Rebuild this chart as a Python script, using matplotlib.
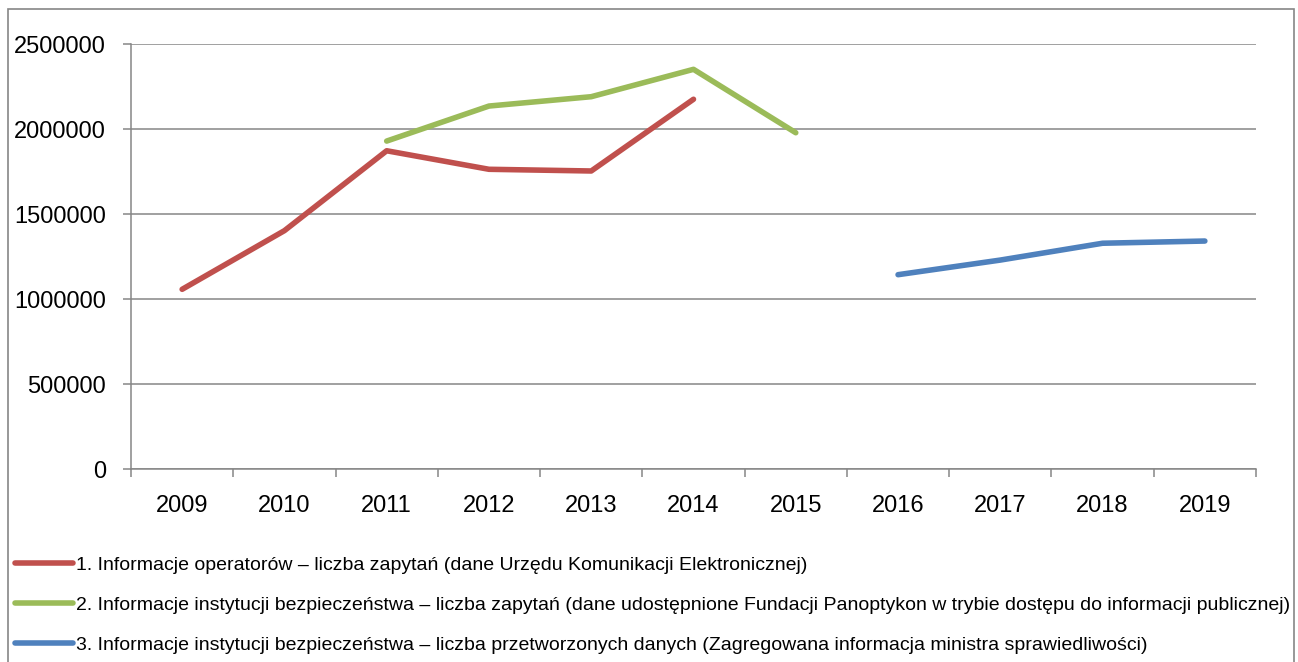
import numpy as np
import matplotlib
matplotlib.use("Agg")
import matplotlib.pyplot as plt
from matplotlib.lines import Line2D
from matplotlib.patches import Rectangle
from matplotlib.ticker import FuncFormatter, FixedLocator

plt.rcParams['font.family'] = ['Liberation Sans', 'DejaVu Sans']

# data
years = ['2009', '2010', '2011', '2012', '2013', '2014', '2015', '2016', '2017', '2018', '2019']
nan = np.nan
operators = [1057000, 1402000, 1872000, 1763000, 1753000, 2175000, nan, nan, nan, nan, nan]
security_requests = [nan, nan, 1929000, 2135000, 2190000, 2351000, 1978000, nan, nan, nan, nan]
security_processed = [nan, nan, nan, nan, nan, nan, nan, 1143000, 1229000, 1328000, 1341000]

labels = [
    '1. Informacje operatorów – liczba zapytań (dane Urzędu Komunikacji Elektronicznej)',
    '2. Informacje instytucji bezpieczeństwa – liczba zapytań (dane udostępnione Fundacji Panoptykon w trybie dostępu do informacji publicznej)',
    '3. Informacje instytucji bezpieczeństwa – liczba przetworzonych danych (Zagregowana informacja ministra sprawiedliwości)',
]
colors = ['#C0504D', '#9BBB59', '#4F81BD']
grey = '#868686'

W, H = 1298, 662
fig = plt.figure(figsize=(W / 100, H / 100), dpi=100)
ax = fig.add_axes([131 / W, 1 - 469 / H, (1256 - 131) / W, (469 - 44) / H])

x = np.arange(len(years))
series = [operators, security_requests, security_processed]
for vals, c in zip(series, colors):
    ax.plot(x, vals, color=c, lw=4.0, solid_capstyle='round', solid_joinstyle='round', zorder=3)

ax.set_xlim(-0.5, len(years) - 0.5)
ax.set_ylim(0, 2500000)
ax.set_yticks(np.arange(0, 2500001, 500000))
ax.yaxis.set_major_formatter(FuncFormatter(lambda v, p: '%d' % v))
ax.grid(axis='y', color=grey, lw=1.1)
ax.set_axisbelow(True)

# category boundaries get the tick marks, labels sit in the middle
ax.xaxis.set_major_locator(FixedLocator(np.arange(-0.5, len(years), 1.0)))
ax.xaxis.set_minor_locator(FixedLocator(x))
ax.set_xticklabels([])
ax.set_xticklabels(years, minor=True)
ax.tick_params(axis='x', which='major', length=6, width=1.1, color=grey, direction='out')
ax.tick_params(axis='x', which='minor', length=0, pad=19, labelsize=17)
ax.tick_params(axis='y', length=6, width=1.1, color=grey, pad=12, labelsize=17)

for s in ['top', 'right']:
    ax.spines[s].set_visible(False)
for s in ['left', 'bottom']:
    ax.spines[s].set_color(grey)
    ax.spines[s].set_linewidth(1.1)

handles = [Line2D([], [], color=c, lw=4.0, solid_capstyle='round') for c in colors]
fig.legend(handles, labels, loc='upper left', bbox_to_anchor=(15 / W, 1 - 556 / H),
           frameon=False, fontsize=14, handlelength=3.0, handletextpad=0.12,
           labelspacing=1.15, borderpad=0, borderaxespad=0)

fig.patches.append(Rectangle((8 / W, -0.02), (1294 - 8) / W, 1 - 9 / H + 0.02,
                             transform=fig.transFigure, fill=False, edgecolor=grey, lw=1.2))

fig.savefig('out.png', dpi=100)
